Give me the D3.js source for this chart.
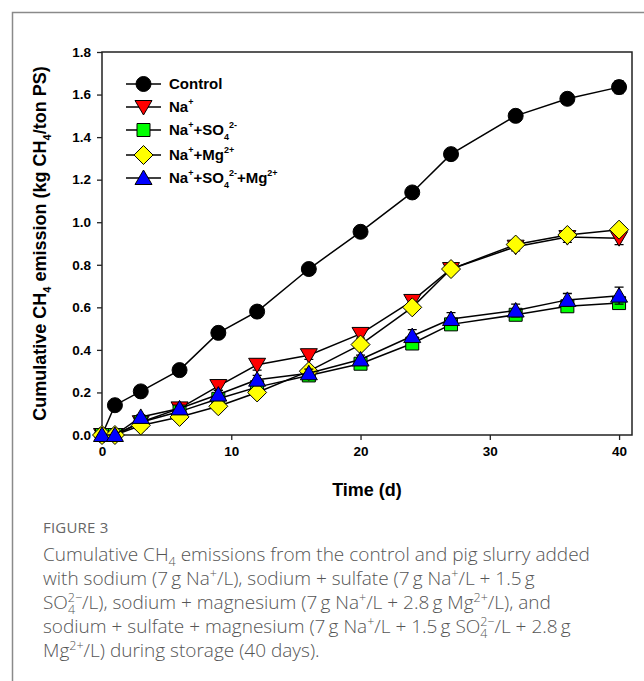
<!DOCTYPE html>
<html>
<head>
<meta charset="utf-8">
<script src="https://cdn.jsdelivr.net/npm/d3@7"></script>
<style>
  body { margin: 0; background: #fff; }
  svg { display: block; }
  .tick text { font-family: 'Liberation Sans', Arial, sans-serif; font-weight: bold; font-size: 13.5px; fill: #000; }
  .axisName { font-family: 'Liberation Sans', Arial, sans-serif; font-weight: bold; font-size: 18px; }
  .legendText { font-family: 'Liberation Sans', Arial, sans-serif; font-weight: bold; font-size: 15px; }
  .caption { font-family: 'Open Sans', Lato, sans-serif; font-weight: 300; font-size: 19px; fill: #555; }
  .figLabel { font-family: 'Open Sans', Lato, sans-serif; font-weight: 400; font-size: 15px; fill: #666; }
</style>
</head>
<body>
<svg width="644" height="681"></svg>
<script>
//## DATA ##
const days = [0, 1, 3, 6, 9, 12, 16, 20, 24, 27, 32, 36, 40]
const control = [0, 0.14, 0.205, 0.305, 0.48, 0.58, 0.78, 0.955, 1.14, 1.32, 1.50, 1.58, 1.635]
const na = [0, 0, 0.06, 0.125, 0.23, 0.33, 0.375, 0.475, 0.63, 0.78, 0.885, 0.93, 0.925]
const naSO4 = [0, 0, 0.06, 0.11, 0.17, 0.225, 0.28, 0.335, 0.43, 0.52, 0.565, 0.605, 0.62]
const naMg = [0, 0, 0.045, 0.085, 0.135, 0.20, 0.30, 0.425, 0.60, 0.78, 0.895, 0.94, 0.965]
const naSO4Mg = [0, 0, 0.085, 0.125, 0.19, 0.26, 0.29, 0.355, 0.465, 0.545, 0.585, 0.635, 0.655]
// standard errors
const controlErr = [0, 0.01, 0.01, 0.01, 0.01, 0.01, 0.01, 0.01, 0.01, 0.01, 0.02, 0.025, 0.03]
const naErr = [0, 0, 0.01, 0.01, 0.02, 0.025, 0.02, 0.02, 0.02, 0.02, 0.02, 0.025, 0.03]
const naSO4Err = [0, 0, 0.01, 0.01, 0.01, 0.01, 0.01, 0.01, 0.01, 0.01, 0.015, 0.015, 0.015]
const naMgErr = [0, 0, 0.01, 0.01, 0.01, 0.01, 0.01, 0.01, 0.01, 0.01, 0.01, 0.02, 0.02]
const naSO4MgErr = [0, 0, 0.01, 0.01, 0.02, 0.02, 0.02, 0.02, 0.03, 0.03, 0.03, 0.03, 0.04]
const yTicks = [0, 0.2, 0.4, 0.6, 0.8, 1.0, 1.2, 1.4, 1.6, 1.8]
const xTicks = [0, 10, 20, 30, 40]

const series = [
  { name: [['Control']], values: control, err: controlErr, shape: 'circle', color: '#000000' },
  { name: [['Na'], ['+', 'sup']], values: na, err: naErr, shape: 'triDown', color: '#ff0000' },
  { name: [['Na'], ['+', 'sup'], ['+SO'], ['4', 'sub'], ['2-', 'sup']], values: naSO4, err: naSO4Err, shape: 'square', color: '#00ff00' },
  { name: [['Na'], ['+', 'sup'], ['+Mg'], ['2+', 'sup']], values: naMg, err: naMgErr, shape: 'diamond', color: '#ffff00' },
  { name: [['Na'], ['+', 'sup'], ['+SO'], ['4', 'sub'], ['2-', 'sup'], ['+Mg'], ['2+', 'sup']], values: naSO4Mg, err: naSO4MgErr, shape: 'triUp', color: '#0000ff' }
]

const captionLines = [
  [['Cumulative CH'], ['4', 'sub'], [' emissions from the control and pig slurry added']],
  [['with sodium (7\u2009g Na'], ['+', 'sup'], ['/L), sodium + sulfate (7\u2009g Na'], ['+', 'sup'], ['/L + 1.5\u2009g']],
  [['SO'], ['4', 'subsup', '2\u2212'], ['/L), sodium + magnesium (7\u2009g Na'], ['+', 'sup'], ['/L + 2.8\u2009g Mg'], ['2+', 'sup'], ['/L), and']],
  [['sodium + sulfate + magnesium (7\u2009g Na'], ['+', 'sup'], ['/L + 1.5\u2009g SO'], ['4', 'subsup', '2\u2212'], ['/L + 2.8\u2009g']],
  [['Mg'], ['2+', 'sup'], ['/L) during storage (40 days).']]
]

//## LAYOUT ##
const svg = d3.select('svg')
const plot = { left: 102, right: 632, top: 52, bottom: 435 }

const scaleX = d3.scaleLinear().domain([0, 41]).range([plot.left, plot.right])
const scaleY = d3.scaleLinear().domain([0, 1.8]).range([plot.bottom, plot.top])

// card border
svg.append('path')
  .attr('d', 'M12.5,681 L12.5,12.5 L644,12.5')
  .attr('fill', 'none')
  .attr('stroke', '#8a8a8a')
  .attr('stroke-width', 1.5)

//## AXES ##
const yAxis = svg.append('g')
  .attr('transform', 'translate(' + plot.left + ',0)')
  .call(d3.axisLeft(scaleY).tickValues(yTicks).tickFormat(d3.format('.1f')).tickSize(5).tickPadding(6))
const xAxis = svg.append('g')
  .attr('transform', 'translate(0,' + plot.bottom + ')')
  .call(d3.axisBottom(scaleX).tickValues(xTicks).tickSize(5).tickPadding(6))

;[yAxis, xAxis].forEach(ax => {
  ax.select('.domain').remove()
  ax.selectAll('.tick line').attr('stroke', '#222').attr('stroke-width', 1.3)
})

// frame
svg.append('rect')
  .attr('x', plot.left).attr('y', plot.top)
  .attr('width', plot.right - plot.left).attr('height', plot.bottom - plot.top)
  .attr('fill', 'none').attr('stroke', '#222').attr('stroke-width', 1.5)

svg.append('text')
  .attr('class', 'axisName')
  .attr('x', 367)
  .attr('y', 496)
  .attr('text-anchor', 'middle')
  .text('Time (d)')

const yName = svg.append('text')
  .attr('class', 'axisName')
  .attr('transform', 'translate(46,' + ((plot.top + plot.bottom) / 2) + ') rotate(-90)')
  .attr('text-anchor', 'middle')
yName.append('tspan').text('Cumulative CH')
yName.append('tspan').attr('dy', 5).attr('font-size', '11px').text('4')
yName.append('tspan').attr('dy', -5).text(' emission (kg CH')
yName.append('tspan').attr('dy', 5).attr('font-size', '11px').text('4')
yName.append('tspan').attr('dy', -5).text('/ton PS)')

//## MARKERS ##
const circlePath = function(x, y, r){
  const p = d3.path()
  p.arc(x, y, r, 0, 2 * Math.PI)
  p.closePath()
  return p.toString()
}
const shapePath = function(shape, x, y){
  if (shape === 'circle') return circlePath(x, y, 7.5)
  if (shape === 'triDown') return 'M' + (x - 8.5) + ',' + (y - 6.5) + 'L' + (x + 8.5) + ',' + (y - 6.5) + 'L' + x + ',' + (y + 8) + 'Z'
  if (shape === 'triUp') return 'M' + (x - 8.5) + ',' + (y + 6.5) + 'L' + (x + 8.5) + ',' + (y + 6.5) + 'L' + x + ',' + (y - 8) + 'Z'
  if (shape === 'square') return 'M' + (x - 6.5) + ',' + (y - 6.5) + 'h13v13h-13Z'
  if (shape === 'diamond') return 'M' + x + ',' + (y - 9.5) + 'L' + (x + 9.5) + ',' + y + 'L' + x + ',' + (y + 9.5) + 'L' + (x - 9.5) + ',' + y + 'Z'
}

const line = d3.line().x(d => scaleX(d.day)).y(d => scaleY(d.value))

series.forEach(s => {
  const pts = days.map((day, i) => ({ day: day, value: s.values[i], err: s.err[i] }))
  const g = svg.append('g')

  g.append('path')
    .attr('d', line(pts))
    .attr('fill', 'none')
    .attr('stroke', '#000')
    .attr('stroke-width', 1.5)

  // error bars
  g.selectAll('.err').data(pts.filter(d => d.err > 0))
    .enter().append('path')
    .attr('d', d => {
      const x = scaleX(d.day), y1 = scaleY(d.value - d.err), y2 = scaleY(d.value + d.err)
      return 'M' + x + ',' + y1 + 'V' + y2 + 'M' + (x - 4.5) + ',' + y1 + 'h9M' + (x - 4.5) + ',' + y2 + 'h9'
    })
    .attr('stroke', '#000')
    .attr('stroke-width', 1.3)
    .attr('fill', 'none')

  g.selectAll('.mark').data(pts)
    .enter().append('path')
    .attr('d', d => shapePath(s.shape, scaleX(d.day), scaleY(d.value)))
    .attr('fill', s.color)
    .attr('stroke', '#000')
    .attr('stroke-width', 1)
})

//## RICH TEXT (sup / sub) ##
const writeRich = function(textSel, parts, smallSize, supShift, subShift){
  let shift = 0 // current baseline offset to undo on the next normal piece
  parts.forEach(p => {
    if (p[1] === 'sup') {
      textSel.append('tspan').attr('font-size', smallSize).attr('dy', -supShift - shift).text(p[0])
      shift = -supShift
    } else if (p[1] === 'sub') {
      textSel.append('tspan').attr('font-size', smallSize).attr('dy', subShift - shift).text(p[0])
      shift = subShift
    } else if (p[1] === 'subsup') {
      textSel.append('tspan').attr('font-size', smallSize).attr('dy', subShift - shift).text(p[0])
      textSel.append('tspan').attr('font-size', smallSize).attr('dx', -smallSize * 0.58).attr('dy', -subShift - supShift).text(p[2])
      shift = -supShift
    } else {
      textSel.append('tspan').attr('dy', -shift).text(p[0])
      shift = 0
    }
  })
}

//## LEGEND ##
const legendRows = [84, 107, 130, 155, 178]
series.forEach((s, i) => {
  const y = legendRows[i]
  svg.append('line')
    .attr('x1', 126).attr('x2', 161).attr('y1', y).attr('y2', y)
    .attr('stroke', '#000').attr('stroke-width', 1.5)
  svg.append('path')
    .attr('d', shapePath(s.shape, 143.5, y))
    .attr('fill', s.color)
    .attr('stroke', '#000')
    .attr('stroke-width', 1)
  const t = svg.append('text')
    .attr('class', 'legendText')
    .attr('x', 169).attr('y', y + 5)
  writeRich(t, s.name, 9, 7, 5)
})

//## CAPTION ##
svg.append('text')
  .attr('class', 'figLabel')
  .attr('x', 43).attr('y', 533)
  .attr('letter-spacing', 0.2)
  .text('FIGURE 3')

const captionY = [561, 585, 609, 633, 657]
captionLines.forEach((parts, i) => {
  const t = svg.append('text')
    .attr('class', 'caption')
    .attr('x', 43).attr('y', captionY[i])
  writeRich(t, parts, 12.5, 7.5, 4.5)
})
</script>
</body>
</html>
